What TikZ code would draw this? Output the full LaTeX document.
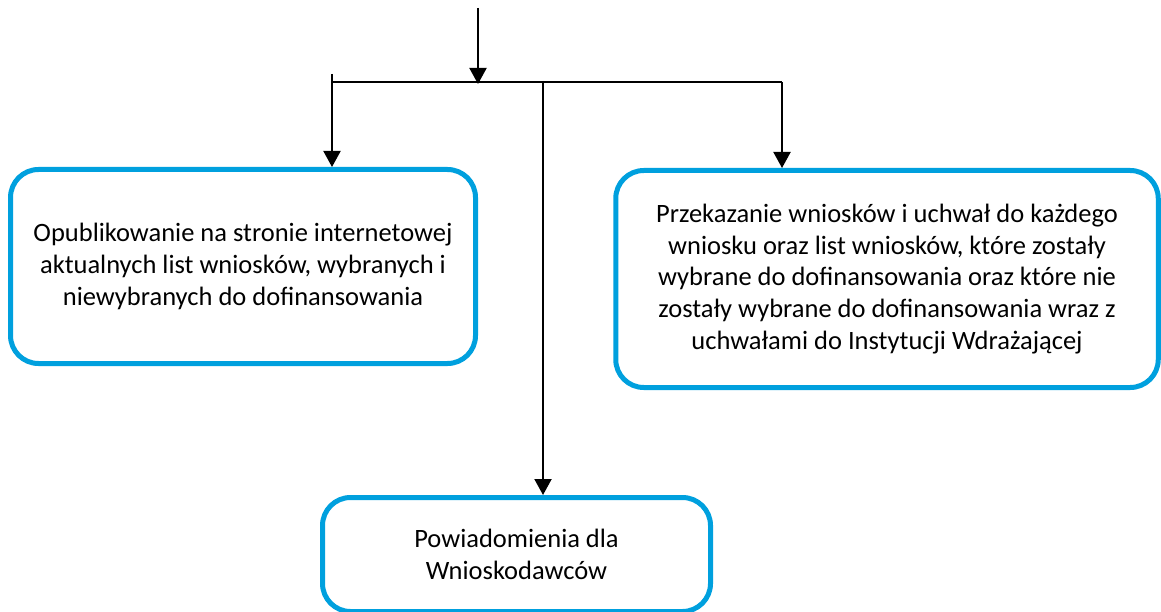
\documentclass[tikz,border=0pt]{standalone}
\usepackage{fontspec}
\setmainfont{Carlito}
\usetikzlibrary{arrows.meta}
\definecolor{boxblue}{RGB}{0,160,222}
\begin{document}
\begin{tikzpicture}[x=1pt,y=-1pt,
  box/.style={draw=boxblue,line width=5pt,rounded corners=28pt,align=center,inner sep=0pt,
    font=\fontsize{26.5}{31.8}\selectfont},
  arr/.style={line width=2pt,-{Triangle[width=17pt,length=16pt]}},
  ln/.style={line width=2pt}]
\useasboundingbox (0,0) rectangle (1161,612);
\clip (0,0) rectangle (1161,612);
\node[box,minimum width=465pt,minimum height=194pt] (L) at (243,266.5)
  {Opublikowanie na stronie internetowej\\aktualnych list wniosków, wybranych i\\niewybranych do dofinansowania};
\node[box,minimum width=542.5pt,minimum height=217pt] (R) at (887,279)
  {Przekazanie wniosków i uchwał do każdego\\wniosku oraz list wniosków, które zostały\\wybrane do dofinansowania oraz które nie\\zostały wybrane do dofinansowania wraz z\\uchwałami do Instytucji Wdrażającej};
\node[box,minimum width=388pt,minimum height=114pt] (B) at (516.5,554.5)
  {Powiadomienia dla\\Wnioskodawców};
\coordinate (top) at (478,8);
\coordinate (J) at (478,84);
\coordinate (HL) at (332,74);
\coordinate (HLb) at (332,82);
\coordinate (HR) at (782,82);
\coordinate (M) at (543,81);
\draw[arr] (top) -- (J);
\draw[ln] (HLb) -- (HR);
\draw[arr] (HL) -- (HL |- L.north);
\draw[arr] (HR) -- (HR |- R.north);
\draw[arr] (M) -- (M |- B.north);
\end{tikzpicture}
\end{document}
